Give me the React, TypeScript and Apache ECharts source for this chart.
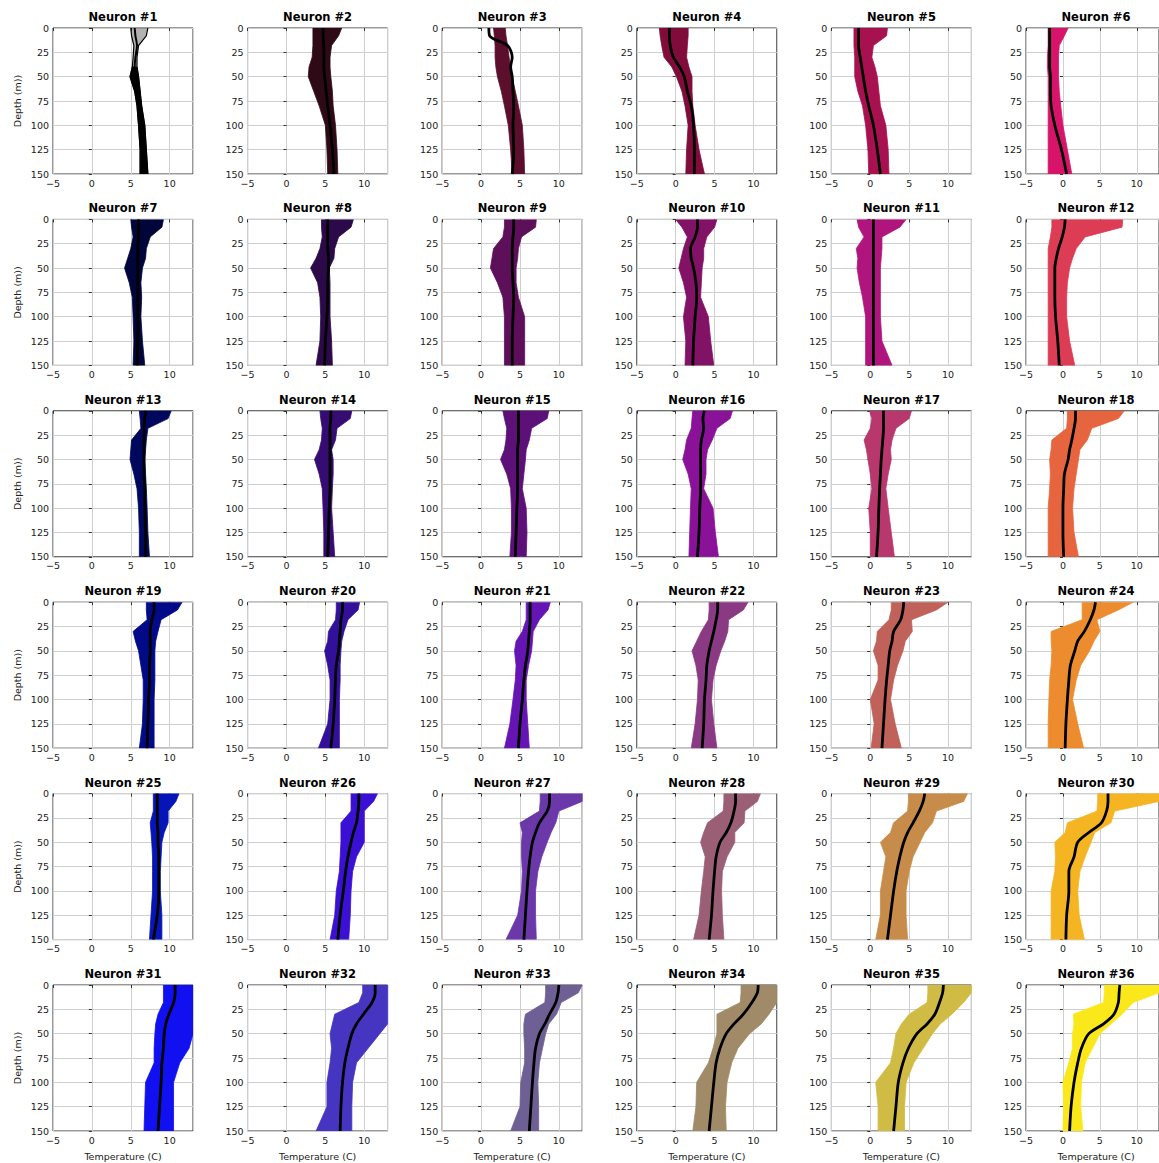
import { useEffect, useRef } from "react";
import * as echarts from "echarts";

const DEPTHS = [0, 8, 18, 30, 40, 50, 65, 80, 100, 125, 150];
const X_TICKS_MIN = -5;
const X_TICKS_MAX = 13;
const Y_TICK_STEP = 25;

const COLORS = [
  "#000000", "#2d0a16", "#5c0f2d", "#7f0c3a", "#a8114f", "#d8146a",
  "#00053a", "#2c0a4a", "#5e0f5a", "#821266", "#b0157e", "#dc3c54",
  "#00085e", "#360c73", "#5c1078", "#8a1299", "#b8376c", "#e6653f",
  "#030a88", "#33109a", "#6615b5", "#8a3a82", "#c0615a", "#ec8c2e",
  "#0515b8", "#3a10d4", "#6a38a8", "#9a5f74", "#c88c4a", "#f5b522",
  "#1010f0", "#4535c0", "#6e5f95", "#a08a68", "#d0bb45", "#fae81a",
];

const LEFT_EDGE = [
  [5.0, 5.1, 5.4, 5.3, 5.2, 4.9, 5.5, 5.8, 6.0, 6.2, 6.2],
  [3.4, 3.4, 3.4, 3.3, 2.9, 2.8, 3.5, 4.2, 5.0, 5.2, 5.3],
  [1.6, 1.7, 1.8, 1.8, 1.9, 2.1, 2.6, 3.0, 3.5, 3.8, 4.0],
  [-2.1, -2.0, -1.8, -1.5, -0.5, 0.1, 0.8, 1.2, 1.6, 1.4, 1.3],
  [-2.1, -2.1, -2.1, -2.0, -2.0, -2.0, -1.6, -1.0, -0.6, -0.3, -0.2],
  [-2.0, -2.0, -2.0, -2.1, -2.1, -2.0, -2.0, -2.0, -2.0, -2.0, -2.0],
  [5.0, 5.1, 5.3, 5.0, 4.6, 4.2, 4.8, 5.2, 5.3, 5.4, 5.3],
  [4.5, 4.5, 4.6, 4.3, 3.8, 3.1, 4.0, 4.3, 4.4, 4.3, 3.8],
  [3.0, 3.0, 2.8, 1.6, 1.4, 1.2, 2.1, 2.8, 3.0, 3.0, 3.0],
  [0.0, 0.8, 1.5, 1.0, 0.7, 0.4, 1.0, 1.4, 1.0, 1.3, 1.2],
  [-1.7, -1.5, -0.8, -1.8, -1.6, -1.7, -1.4, -1.0, -0.6, -0.6, -0.6],
  [-1.5, -1.5, -1.7, -2.0, -2.0, -2.0, -2.0, -2.0, -2.0, -2.0, -2.0],
  [6.1, 6.2, 6.3, 5.1, 5.0, 4.9, 5.4, 5.8, 6.0, 6.1, 6.1],
  [4.3, 4.4, 4.6, 4.5, 4.2, 3.6, 4.2, 4.6, 4.7, 4.8, 4.8],
  [2.8, 3.0, 3.3, 3.2, 3.0, 2.5, 3.3, 3.8, 3.9, 3.9, 3.7],
  [2.2, 2.1, 2.0, 1.4, 1.2, 0.9, 1.6, 2.0, 1.9, 1.8, 1.7],
  [-0.1, 0.2, 0.0, -0.8, -0.5, -0.3, 0.0, 0.2, -0.2, 0.0, 0.0],
  [0.6, 0.6, 0.5, -1.5, -1.6, -1.8, -1.7, -1.8, -2.0, -2.0, -2.0],
  [7.0, 7.0, 7.1, 5.3, 5.6, 6.0, 6.3, 6.6, 6.6, 6.5, 6.1],
  [6.4, 6.4, 6.3, 5.4, 5.3, 4.9, 5.3, 5.6, 5.6, 5.3, 4.1],
  [5.8, 5.8, 5.8, 5.3, 4.5, 4.3, 4.5, 4.4, 4.1, 3.7, 3.0],
  [4.3, 4.3, 4.2, 3.3, 2.7, 2.1, 2.6, 2.9, 2.8, 2.5, 2.0],
  [2.7, 2.7, 2.4, 0.9, 0.8, 0.4, 1.0, 1.0, 0.0, 0.5, 0.1],
  [2.6, 2.6, 2.6, -1.6, -1.6, -1.5, -1.6, -1.8, -1.9, -2.0, -2.0],
  [7.9, 7.9, 7.9, 7.5, 7.6, 7.7, 7.8, 7.8, 7.8, 7.6, 7.4],
  [8.3, 8.3, 8.3, 7.0, 7.0, 7.0, 6.9, 6.8, 6.4, 6.2, 5.6],
  [7.6, 7.6, 7.5, 5.0, 5.3, 5.2, 5.2, 5.3, 5.2, 4.7, 3.2],
  [6.2, 6.2, 6.1, 4.1, 3.6, 3.2, 3.8, 3.6, 3.3, 3.0, 2.3],
  [4.9, 4.9, 4.8, 3.0, 2.6, 1.3, 2.0, 1.7, 1.3, 1.3, 0.7],
  [4.7, 4.7, 4.6, 0.6, 0.3, -1.1, -1.0, -1.1, -1.6, -1.6, -1.6],
  [9.2, 9.2, 9.2, 8.5, 8.2, 8.1, 8.0, 8.0, 6.9, 6.8, 6.7],
  [9.8, 9.8, 9.3, 6.2, 5.9, 5.6, 5.8, 5.6, 5.2, 5.2, 3.8],
  [8.3, 8.3, 8.2, 5.7, 5.5, 5.5, 5.6, 5.6, 5.1, 5.0, 3.8],
  [8.4, 8.4, 8.3, 5.3, 5.3, 5.3, 4.8, 4.2, 2.7, 2.6, 2.2],
  [7.4, 7.4, 7.3, 5.0, 4.0, 3.3, 3.0, 2.6, 0.7, 1.0, 1.0],
  [5.6, 5.6, 5.5, 1.4, 1.5, 1.3, 1.3, 0.8, 0.0, 0.1, 0.0],
];

const RIGHT_EDGE = [
  [7.2, 7.0, 6.0, 5.8, 5.8, 6.0, 6.2, 6.4, 6.8, 7.0, 7.2],
  [7.1, 6.7, 5.8, 5.6, 5.6, 5.7, 5.9, 6.0, 6.3, 6.5, 6.6],
  [3.1, 3.2, 3.4, 3.6, 3.8, 4.0, 4.4, 4.8, 5.3, 5.5, 5.6],
  [1.6, 1.6, 1.5, 1.4, 1.7, 2.1, 2.1, 2.2, 2.5, 3.0, 3.7],
  [2.2, 2.1, 0.4, 0.2, 0.6, 0.9, 1.1, 1.3, 2.0, 2.3, 2.4],
  [0.7, 0.2, -0.5, -0.6, -0.6, -0.6, -0.5, -0.3, 0.0, 0.6, 1.2],
  [9.2, 9.0, 7.5, 7.0, 6.9, 6.5, 6.3, 6.4, 6.3, 6.5, 6.8],
  [8.6, 8.3, 6.7, 6.2, 6.1, 5.5, 5.6, 5.6, 5.6, 5.8, 5.9],
  [7.1, 7.0, 5.2, 4.8, 4.7, 4.5, 4.5, 4.8, 5.6, 5.6, 5.6],
  [5.3, 5.0, 4.0, 3.6, 3.6, 3.4, 3.3, 3.2, 4.2, 4.5, 4.9],
  [4.6, 3.8, 1.5, 1.5, 1.4, 1.3, 1.3, 1.3, 1.3, 1.5, 2.8],
  [8.1, 8.0, 3.0, 1.8, 1.3, 0.9, 0.6, 0.5, 0.5, 0.9, 1.6],
  [10.2, 9.8, 7.2, 7.0, 6.9, 6.8, 6.9, 7.0, 7.1, 7.2, 7.4],
  [8.4, 8.2, 6.5, 6.3, 5.8, 6.0, 6.0, 5.9, 5.8, 6.0, 6.2],
  [8.7, 8.5, 6.5, 6.2, 5.8, 5.7, 5.5, 5.3, 5.8, 5.9, 5.8],
  [7.3, 7.0, 5.3, 4.7, 4.1, 3.9, 3.9, 3.6, 4.8, 5.1, 5.5],
  [5.3, 5.0, 3.3, 2.8, 2.6, 2.7, 2.3, 2.0, 2.3, 2.7, 3.1],
  [8.3, 7.5, 3.9, 3.3, 2.3, 2.1, 1.8, 1.5, 1.3, 1.5, 2.1],
  [11.6, 11.0, 8.9, 8.5, 8.2, 8.1, 8.1, 8.1, 8.0, 8.0, 8.0],
  [9.4, 9.2, 7.9, 7.4, 7.1, 7.0, 6.9, 6.9, 6.8, 6.8, 6.8],
  [8.9, 8.6, 7.5, 6.7, 6.6, 6.5, 6.1, 5.8, 5.8, 6.0, 6.2],
  [9.3, 8.7, 6.8, 6.7, 6.3, 5.8, 5.2, 4.8, 4.6, 4.9, 5.3],
  [10.0, 8.5, 5.3, 5.4, 4.5, 4.2, 3.5, 3.0, 2.6, 3.2, 4.0],
  [9.5, 7.5, 4.6, 5.0, 4.2, 3.6, 2.4, 1.8, 1.3, 2.0, 2.8],
  [11.2, 10.8, 9.8, 9.8, 9.3, 9.0, 8.9, 8.8, 8.8, 9.0, 9.0],
  [11.7, 11.2, 10.0, 10.0, 10.0, 10.0, 9.0, 8.5, 8.3, 8.2, 8.0],
  [13.0, 13.0, 10.0, 9.6, 9.0, 8.5, 7.8, 7.3, 7.0, 7.0, 7.1],
  [10.9, 10.5, 8.9, 8.8, 7.6, 7.6, 6.6, 6.0, 5.9, 6.0, 6.2],
  [12.5, 12.0, 8.5, 8.0, 7.0, 6.4, 5.5, 5.0, 4.6, 4.6, 4.8],
  [13.0, 13.0, 7.0, 6.5, 4.3, 3.8, 3.0, 2.3, 2.0, 2.2, 2.9],
  [13.0, 13.0, 13.0, 13.0, 13.0, 13.0, 12.5, 11.3, 10.5, 10.5, 10.5],
  [13.0, 13.0, 13.0, 13.0, 13.0, 12.0, 10.5, 9.0, 8.5, 8.4, 8.4],
  [13.0, 12.5, 10.3, 9.7, 8.7, 8.3, 7.9, 7.5, 7.3, 7.4, 7.4],
  [13.0, 13.0, 13.0, 12.0, 11.0, 9.5, 8.0, 7.2, 6.6, 6.4, 6.5],
  [13.0, 13.0, 12.0, 10.5, 9.0, 8.0, 6.8, 5.6, 4.6, 4.4, 4.4],
  [13.0, 13.0, 9.5, 8.0, 6.5, 5.0, 4.0, 3.0, 2.5, 2.4, 2.7],
];

const MEAN_PROFILE = [
  [5.5, 5.6, 5.8, 5.6, 5.5, 5.6, 5.9, 6.1, 6.4, 6.7, 6.9],
  [4.7, 4.7, 4.8, 4.8, 4.8, 4.9, 5.1, 5.3, 5.6, 5.9, 6.1],
  [1.0, 1.1, 3.4, 4.0, 3.8, 4.0, 4.1, 4.2, 4.1, 4.2, 4.0],
  [-0.8, -0.8, -0.7, -0.3, 0.5, 1.1, 1.5, 2.0, 2.3, 2.4, 2.4],
  [-1.5, -1.5, -1.5, -1.3, -1.1, -0.9, -0.6, -0.2, 0.4, 0.9, 1.3],
  [-1.8, -1.8, -1.8, -1.8, -1.8, -1.7, -1.7, -1.6, -1.1, -0.2, 0.5],
  [6.0, 6.0, 6.0, 5.9, 5.9, 5.9, 5.9, 5.9, 5.9, 5.9, 5.8],
  [5.3, 5.3, 5.3, 5.3, 5.4, 5.4, 5.3, 5.3, 5.2, 5.0, 4.9],
  [4.2, 4.2, 4.1, 4.0, 4.0, 4.0, 4.1, 4.2, 4.1, 4.0, 4.0],
  [2.8, 2.8, 2.5, 1.9, 2.0, 2.3, 2.6, 2.7, 2.5, 2.3, 2.2],
  [0.4, 0.4, 0.4, 0.4, 0.4, 0.4, 0.4, 0.4, 0.4, 0.4, 0.4],
  [0.3, 0.2, -0.1, -0.6, -0.9, -1.1, -1.1, -1.1, -1.0, -0.7, -0.5],
  [6.9, 6.8, 6.7, 6.7, 6.7, 6.7, 6.7, 6.8, 6.8, 6.9, 6.9],
  [5.7, 5.7, 5.6, 5.6, 5.6, 5.6, 5.6, 5.6, 5.5, 5.4, 5.3],
  [4.8, 4.8, 4.8, 4.8, 4.7, 4.7, 4.7, 4.7, 4.6, 4.5, 4.4],
  [3.7, 3.5, 3.6, 3.3, 3.2, 3.2, 3.2, 3.2, 3.1, 3.0, 2.8],
  [1.7, 1.7, 1.7, 1.6, 1.5, 1.4, 1.3, 1.2, 1.1, 1.0, 0.8],
  [1.7, 1.7, 1.5, 1.2, 0.9, 0.7, 0.2, 0.1, 0.0, 0.0, 0.1],
  [8.0, 8.0, 7.7, 7.5, 7.5, 7.5, 7.4, 7.4, 7.3, 7.2, 7.1],
  [7.2, 7.2, 7.0, 6.9, 6.8, 6.7, 6.4, 6.3, 6.2, 6.0, 5.7],
  [6.3, 6.3, 6.3, 6.2, 6.1, 6.0, 5.7, 5.5, 5.3, 5.0, 4.8],
  [5.4, 5.4, 5.2, 4.9, 4.6, 4.3, 4.0, 3.9, 3.7, 3.6, 3.4],
  [4.3, 4.2, 3.9, 3.0, 2.8, 2.5, 2.3, 2.1, 1.9, 1.7, 1.5],
  [4.4, 4.2, 3.7, 2.9, 2.0, 1.6, 1.0, 0.8, 0.6, 0.4, 0.3],
  [8.4, 8.4, 8.4, 8.4, 8.5, 8.5, 8.6, 8.6, 8.6, 8.4, 7.9],
  [9.3, 9.3, 9.2, 9.0, 8.6, 8.3, 7.9, 7.6, 7.3, 6.9, 6.6],
  [8.8, 8.8, 8.5, 7.5, 7.0, 6.6, 6.3, 6.1, 5.9, 5.7, 5.5],
  [7.7, 7.7, 7.5, 7.1, 6.5, 5.7, 5.2, 5.0, 4.8, 4.6, 4.3],
  [7.0, 6.8, 6.3, 5.5, 4.8, 4.3, 3.8, 3.4, 3.0, 2.6, 2.2],
  [6.1, 6.1, 5.9, 5.2, 3.5, 2.0, 1.5, 0.8, 0.8, 0.5, 0.4],
  [10.7, 10.7, 10.5, 9.9, 9.5, 9.3, 9.2, 9.0, 8.9, 8.7, 8.5],
  [11.4, 11.4, 11.0, 9.9, 9.0, 8.4, 7.9, 7.5, 7.2, 7.0, 6.9],
  [10.0, 9.9, 9.6, 8.8, 8.2, 7.5, 7.0, 6.8, 6.6, 6.4, 6.2],
  [10.6, 10.5, 9.8, 8.7, 7.5, 6.5, 5.7, 5.2, 4.9, 4.6, 4.3],
  [9.4, 9.3, 8.9, 8.3, 7.3, 6.0, 4.9, 4.2, 3.6, 3.3, 3.0],
  [7.7, 7.6, 7.5, 6.9, 5.5, 3.5, 2.5, 2.0, 1.5, 1.1, 0.9],
];

const TITLES = COLORS.map((_, i) => `Neuron #${i + 1}`);
const Y_NAME = "Depth (m))";
const X_NAME = "Temperature (C)";

const GRID_LEFT0 = 53;
const COL_STEP = 194.6;
const GRID_TOP0 = 28;
const ROW_STEP = 191.4;
const GRID_W = 140;
const GRID_H = 146;
const FONT = "DejaVu Sans";
const BUNDLE_SPLIT = 4; // index in DEPTHS where the neuron #1 bundle becomes dense

export default function App() {
  const ref = useRef<HTMLDivElement>(null);
  useEffect(() => {
    if (!ref.current) return;
    const chart = echarts.init(ref.current, null, { renderer: "svg" });
    const grid: any[] = [];
    const xAxis: any[] = [];
    const yAxis: any[] = [];
    const series: any[] = [];
    const graphic: any[] = [];
    for (let i = 0; i < 36; i++) {
      const r = Math.floor(i / 6);
      const c = i % 6;
      const left = GRID_LEFT0 + c * COL_STEP;
      const top = GRID_TOP0 + r * ROW_STEP;
      grid.push({
        left, top, width: GRID_W, height: GRID_H,
        show: true, borderColor: "#333", borderWidth: 1, backgroundColor: "transparent",
      });
      xAxis.push({
        type: "value", gridIndex: i, min: X_TICKS_MIN, max: X_TICKS_MAX, interval: 5,
        axisLine: { show: false },
        axisTick: { show: true, length: 3, lineStyle: { color: "#333" } },
        axisLabel: {
          showMaxLabel: false, fontSize: 9.5, color: "#1a1a1a", fontFamily: FONT, margin: 4,
          formatter: (v: number) => String(v).replace("-", "\u2212"),
        },
        splitLine: { show: true, lineStyle: { color: "#cfcfcf", width: 1 } },
      });
      yAxis.push({
        type: "value", gridIndex: i, min: 0, max: 150, interval: Y_TICK_STEP, inverse: true,
        axisLine: { show: false },
        axisTick: { show: true, length: 3, lineStyle: { color: "#333" } },
        axisLabel: { fontSize: 9.5, color: "#1a1a1a", fontFamily: FONT, margin: 4 },
        splitLine: { show: true, lineStyle: { color: "#cfcfcf", width: 1 } },
      });
      const L = LEFT_EDGE[i];
      const R = RIGHT_EDGE[i];
      const color = COLORS[i];
      const bundleOnly = i === 0;
      series.push({
        type: "custom", xAxisIndex: i, yAxisIndex: i, data: [[0, 0]], silent: true, z: 2,
        clip: true,
        renderItem: (_p: any, api: any) => {
          const lp = L.map((v, k) => api.coord([v, DEPTHS[k]]));
          const rp = R.map((v, k) => api.coord([v, DEPTHS[k]]));
          if (bundleOnly) {
            const s = BUNDLE_SPLIT;
            const topPts = lp.slice(0, s + 1).concat(rp.slice(0, s + 1).reverse());
            const lowPts = lp.slice(s).concat(rp.slice(s).reverse());
            return {
              type: "group",
              children: [
                { type: "polygon", shape: { points: topPts }, style: { fill: "rgba(0,0,0,0.3)" } },
                { type: "polygon", shape: { points: lowPts }, style: { fill: "#000", stroke: "#000", lineWidth: 0.8 } },
                { type: "polyline", shape: { points: lp }, style: { stroke: color, lineWidth: 1.2, fill: "none" } },
                { type: "polyline", shape: { points: rp }, style: { stroke: color, lineWidth: 1.2, fill: "none" } },
              ],
            };
          }
          return {
            type: "polygon",
            shape: { points: lp.concat(rp.slice().reverse()) },
            style: { fill: color, stroke: color, lineWidth: 0.8 },
          };
        },
      });
      series.push({
        type: "line", xAxisIndex: i, yAxisIndex: i, silent: true, z: 3,
        data: MEAN_PROFILE[i].map((v, k) => [v, DEPTHS[k]]),
        symbol: "none", showSymbol: false, smooth: 0.3,
        lineStyle: { color: "#000", width: bundleOnly ? 2 : 2.8 },
      });
      graphic.push({
        type: "text", x: left + GRID_W / 2, y: top - 11, silent: true,
        style: { text: TITLES[i], fontSize: 11.5, fontWeight: "bold", fontFamily: FONT, fill: "#000", align: "center", verticalAlign: "middle" },
      });
      if (c === 0) {
        graphic.push({
          type: "text", x: 17, y: top + GRID_H / 2, rotation: Math.PI / 2, silent: true,
          style: { text: Y_NAME, fontSize: 9.5, fontFamily: FONT, fill: "#1a1a1a", align: "center", verticalAlign: "middle" },
        });
      }
      if (r === 5) {
        graphic.push({
          type: "text", x: left + GRID_W / 2, y: top + GRID_H + 25, silent: true,
          style: { text: X_NAME, fontSize: 9.5, fontFamily: FONT, fill: "#1a1a1a", align: "center", verticalAlign: "middle" },
        });
      }
    }
    chart.setOption({ animation: false, grid, xAxis, yAxis, series, graphic });
    return () => chart.dispose();
  }, []);
  return (
    <div
      ref={ref}
      style={{ position: "fixed", left: 0, top: 0, width: 1159, height: 1163, background: "#fff" }}
    />
  );
}
